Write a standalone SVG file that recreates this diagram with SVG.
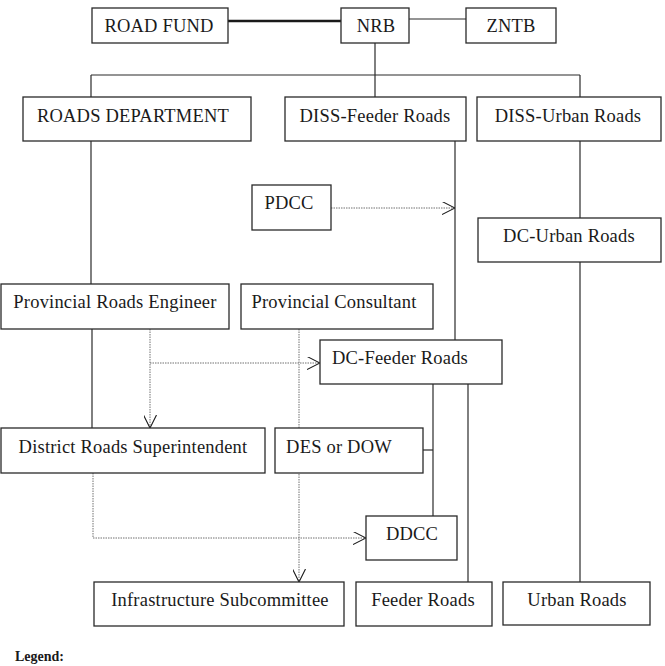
<svg xmlns="http://www.w3.org/2000/svg" width="665" height="666" viewBox="0 0 665 666">
  <style>
    .box { fill: #ffffff; stroke: #2a2a2a; stroke-width: 1.3; }
    .lbl { font-family: "Liberation Serif", "Times New Roman", serif; font-size: 18.5px; letter-spacing: 0.2px; fill: #1a1a1a; text-anchor: middle; }
    .line { fill: none; stroke: #2a2a2a; stroke-width: 1.2; }
    .thick { fill: none; stroke: #1a1a1a; stroke-width: 2.6; }
    .dot { fill: none; stroke: #707070; stroke-width: 1; stroke-dasharray: 1.5 1; }
    .legend { font-family: "Liberation Serif", "Times New Roman", serif; font-size: 14px; font-weight: bold; fill: #1a1a1a; }
  </style>
  <defs>
    <marker id="chev" viewBox="0 0 13 13" refX="13" refY="6.5" markerWidth="13" markerHeight="13" markerUnits="userSpaceOnUse" orient="auto">
      <path d="M0,0 L13,6.5 L0,13" fill="none" stroke="#1a1a1a" stroke-width="1.1"/>
    </marker>
  </defs>

  <rect width="665" height="666" fill="#ffffff"/>

  <!-- connectors -->
  <g id="connectors">
    <!-- top level -->
    <line class="thick" x1="228" y1="21" x2="341" y2="21"/>
    <line class="line" x1="409" y1="19" x2="466" y2="19"/>
    <line class="line" x1="375" y1="43" x2="375" y2="75"/>
    <line class="line" x1="91" y1="75" x2="580" y2="75"/>
    <line class="line" x1="91" y1="75" x2="91" y2="97"/>
    <line class="line" x1="375" y1="75" x2="375" y2="97"/>
    <line class="line" x1="580" y1="75" x2="580" y2="97"/>
    <!-- department branches -->
    <line class="line" x1="91" y1="141" x2="91" y2="284"/>
    <line class="line" x1="455" y1="141" x2="455" y2="340"/>
    <line class="line" x1="580" y1="141" x2="580" y2="218"/>
    <line class="line" x1="580" y1="262" x2="580" y2="582"/>
    <line class="line" x1="92" y1="329" x2="92" y2="428"/>
    <polyline class="line" points="423,450 433,450"/>
    <line class="line" x1="433" y1="384" x2="433" y2="516"/>
    <line class="line" x1="468" y1="384" x2="468" y2="582"/>
    <!-- coordination (dotted) -->
    <line class="dot" x1="331" y1="208" x2="455" y2="208" marker-end="url(#chev)"/>
    <line class="dot" x1="150" y1="329" x2="150" y2="428" marker-end="url(#chev)"/>
    <line class="dot" x1="150" y1="363" x2="320" y2="363" marker-end="url(#chev)"/>
    <line class="dot" x1="299" y1="329" x2="299" y2="582" marker-end="url(#chev)"/>
    <polyline class="dot" points="93,473 93,538 366,538" marker-end="url(#chev)"/>
  </g>

  <g id="road-fund"><rect class="box" x="92" y="8" width="136" height="35"/><text class="lbl" x="159" y="32">ROAD FUND</text></g>
  <g id="nrb"><rect class="box" x="341" y="8" width="68" height="35"/><text class="lbl" x="376" y="32">NRB</text></g>
  <g id="zntb"><rect class="box" x="466" y="8" width="90" height="35"/><text class="lbl" x="511" y="32">ZNTB</text></g>

  <g id="roads-department"><rect class="box" x="23" y="97" width="228" height="44"/><text class="lbl" x="133" y="122">ROADS DEPARTMENT</text></g>
  <g id="diss-feeder"><rect class="box" x="285" y="97" width="181" height="44"/><text class="lbl" x="375" y="122">DISS-Feeder Roads</text></g>
  <g id="diss-urban"><rect class="box" x="477" y="97" width="184" height="44"/><text class="lbl" x="568" y="122">DISS-Urban Roads</text></g>

  <g id="pdcc"><rect class="box" x="252" y="185" width="79" height="45"/><text class="lbl" x="289" y="209">PDCC</text></g>
  <g id="dc-urban"><rect class="box" x="478" y="218" width="183" height="44"/><text class="lbl" x="569" y="242">DC-Urban Roads</text></g>

  <g id="provincial-engineer"><rect class="box" x="1" y="284" width="228" height="45"/><text class="lbl" x="115" y="308">Provincial Roads Engineer</text></g>
  <g id="provincial-consultant"><rect class="box" x="241" y="284" width="192" height="45"/><text class="lbl" x="334" y="308">Provincial Consultant</text></g>
  <g id="dc-feeder"><rect class="box" x="320" y="340" width="182" height="44"/><text class="lbl" x="400" y="364">DC-Feeder Roads</text></g>

  <g id="district-superintendent"><rect class="box" x="1" y="428" width="264" height="45"/><text class="lbl" x="133" y="453">District Roads Superintendent</text></g>
  <g id="des-dow"><rect class="box" x="275" y="428" width="148" height="45"/><text class="lbl" x="339" y="453">DES or DOW</text></g>

  <g id="ddcc"><rect class="box" x="366" y="516" width="91" height="44"/><text class="lbl" x="412" y="540">DDCC</text></g>

  <g id="infrastructure"><rect class="box" x="94" y="582" width="250" height="44"/><text class="lbl" x="220" y="606">Infrastructure Subcommittee</text></g>
  <g id="feeder-roads"><rect class="box" x="356" y="582" width="136" height="44"/><text class="lbl" x="423" y="606">Feeder Roads</text></g>
  <g id="urban-roads"><rect class="box" x="503" y="582" width="147" height="43"/><text class="lbl" x="577" y="606">Urban Roads</text></g>

  <text class="legend" x="15" y="661">Legend:</text>
</svg>
